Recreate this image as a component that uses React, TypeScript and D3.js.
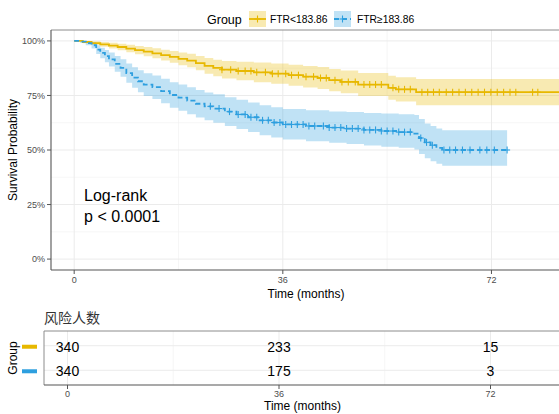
import React from "react";
import * as d3 from "d3";

// Kaplan-Meier steps
const groups = ["FTR<183.86", "FTR≥183.86"];
const colors = ["#E7B800", "#2E9FDF"];

const lowTime = [0, 1.5, 3, 4.5, 6, 7.5, 9, 10.5, 12, 13.5, 15, 16.5, 18, 19.5, 21, 22.5, 24, 25.5, 28, 31, 34, 37, 39.5, 42, 44, 46, 49, 54.2, 55.5, 59];
const lowSurv = [1, 0.995, 0.99, 0.984, 0.978, 0.972, 0.965, 0.958, 0.951, 0.943, 0.935, 0.927, 0.918, 0.91, 0.898, 0.886, 0.876, 0.868, 0.862, 0.856, 0.85, 0.843, 0.836, 0.83, 0.82, 0.812, 0.8, 0.785, 0.778, 0.765];
const lowLower = [1, 0.989, 0.981, 0.973, 0.965, 0.957, 0.948, 0.939, 0.93, 0.92, 0.91, 0.9, 0.889, 0.879, 0.865, 0.85, 0.838, 0.828, 0.82, 0.811, 0.804, 0.795, 0.787, 0.78, 0.769, 0.76, 0.747, 0.73, 0.722, 0.705];
const lowUpper = [1, 1, 0.999, 0.995, 0.991, 0.987, 0.982, 0.977, 0.972, 0.966, 0.96, 0.954, 0.947, 0.941, 0.931, 0.922, 0.914, 0.908, 0.904, 0.901, 0.896, 0.891, 0.885, 0.88, 0.871, 0.864, 0.853, 0.84, 0.834, 0.825];
const lowCensor = [25.5, 27, 28.3, 29.5, 30.5, 31.5, 33, 34.2, 35.2, 36.5, 37.5, 38.7, 40, 41.3, 42.5, 43.5, 45, 46.2, 47.3, 48.5, 50, 51, 52, 53, 55, 56, 57, 58, 60, 61, 62, 63, 64.2, 65.3, 66.4, 67.5, 68.6, 69.7, 70.8, 71.9, 73, 74.1, 75.2, 76.2, 79.1, 80];
const lowEnd = 86;

const highTime = [0, 1, 2, 3, 3.8, 4.5, 5.3, 6, 7, 8, 9, 10, 11, 12, 13.5, 15, 16.5, 18, 19.5, 21, 22.5, 24, 26, 28, 30, 32, 34, 36, 40, 44, 47, 50, 53, 56, 58.7, 59.5, 60.5, 61.5, 62.5, 63.5];
const highSurv = [1, 0.997, 0.99, 0.98, 0.96, 0.945, 0.93, 0.915, 0.895, 0.876, 0.852, 0.832, 0.815, 0.8, 0.788, 0.77, 0.752, 0.74, 0.726, 0.712, 0.7, 0.69, 0.676, 0.663, 0.65, 0.636, 0.626, 0.617, 0.61, 0.603, 0.598, 0.592, 0.587, 0.582, 0.575, 0.555, 0.535, 0.522, 0.51, 0.5];
const highLower = [1, 0.992, 0.98, 0.965, 0.94, 0.921, 0.902, 0.883, 0.859, 0.836, 0.808, 0.785, 0.765, 0.748, 0.734, 0.714, 0.694, 0.68, 0.664, 0.649, 0.636, 0.625, 0.61, 0.596, 0.582, 0.568, 0.557, 0.548, 0.54, 0.533, 0.527, 0.521, 0.515, 0.51, 0.502, 0.482, 0.462, 0.449, 0.437, 0.428];
const highUpper = [1, 1, 1, 0.995, 0.98, 0.969, 0.958, 0.947, 0.931, 0.916, 0.896, 0.879, 0.865, 0.852, 0.842, 0.826, 0.81, 0.8, 0.788, 0.775, 0.764, 0.755, 0.742, 0.73, 0.718, 0.705, 0.696, 0.688, 0.682, 0.677, 0.674, 0.67, 0.667, 0.664, 0.66, 0.642, 0.622, 0.61, 0.598, 0.59];
const highCensor = [23.5, 25, 26.8, 28.3, 29.5, 30.5, 31.5, 32.5, 33.5, 34.5, 35.5, 36.5, 37.5, 38.5, 39.5, 40.5, 41.5, 43, 44, 45, 46, 47, 48, 49, 50, 51, 52, 53, 54, 55, 56, 57, 58, 59.8, 60.8, 61.8, 63.8, 64.8, 65.8, 67, 68.3, 70, 71.2, 72.5, 74.7];
const highEnd = 74.7;

const riskTimes = [0, 36, 72];
const riskLow = [340, 233, 15];
const riskHigh = [340, 175, 3];

const xTicks = [0, 36, 72];
const yTicks = [0, 0.25, 0.5, 0.75, 1];

const font = "'Liberation Sans', Arial, sans-serif";

const W = 559;
const H = 414;

const App = () => {
  const main = { left: 51, right: 561, top: 30, bottom: 270 };
  const risk = { left: 44, right: 561, top: 331, bottom: 385 };

  const x = d3.scaleLinear().domain([-4, 84]).range([main.left, main.right]);
  const y = d3.scaleLinear().domain([-0.05, 1.05]).range([main.bottom, main.top]);
  const xr = d3.scaleLinear().domain([-4, 84]).range([risk.left, risk.right]);
  const yr = d3.scalePoint<string>().domain(groups).range([risk.top, risk.bottom]).padding(0.6);

  const series = [
    { time: lowTime, surv: lowSurv, lower: lowLower, upper: lowUpper, censor: lowCensor, end: lowEnd, dash: null },
    { time: highTime, surv: highSurv, lower: highLower, upper: highUpper, censor: highCensor, end: highEnd, dash: "5,3" },
  ].map((s) => {
    const n = s.time.length - 1;
    const pts = s.time.map((t, i) => ({ t, s: s.surv[i], lo: s.lower[i], hi: s.upper[i] }));
    pts.push({ t: s.end, s: s.surv[n], lo: s.lower[n], hi: s.upper[n] });
    const at = (t: number) => s.surv[Math.max(0, d3.bisectRight(s.time, t) - 1)];
    return { ...s, pts, at };
  });

  const line = d3
    .line<any>()
    .x((d) => x(d.t))
    .y((d) => y(d.s))
    .curve(d3.curveStepAfter);
  const band = d3
    .area<any>()
    .x((d) => x(d.t))
    .y0((d) => y(d.lo))
    .y1((d) => y(d.hi))
    .curve(d3.curveStepAfter);

  const minorX = [18, 54];
  const minorY = [0.125, 0.375, 0.625, 0.875];

  const plus = (cx: number, cy: number, c: string, key: any) => (
    <g key={key} stroke={c} strokeWidth={1.1}>
      <line x1={cx - 3} x2={cx + 3} y1={cy} y2={cy} />
      <line x1={cx} x2={cx} y1={cy - 3.5} y2={cy + 3.5} />
    </g>
  );

  const legendKeys = [
    { kx: 249, tx: 270 },
    { kx: 334, tx: 357 },
  ];

  return (
    <svg width={W} height={H} style={{ position: "absolute", left: 0, top: 0, background: "#fff" }} fontFamily={font}>
      <defs>
        <clipPath id="mainClip">
          <rect x={main.left} y={main.top} width={main.right - main.left} height={main.bottom - main.top} />
        </clipPath>
      </defs>

      {/* legend */}
      <text x={207} y={23.5} fontSize={12.5} fill="#000">Group</text>
      {legendKeys.map((k, i) => (
        <g key={i}>
          <rect x={k.kx} y={11} width={17} height={16} fill={colors[i]} fillOpacity={0.3} />
          <line x1={k.kx} x2={k.kx + 17} y1={19} y2={19} stroke={colors[i]} strokeWidth={1.8} strokeDasharray={series[i].dash || undefined} />
          {plus(k.kx + 8.5, 19, colors[i], "lp" + i)}
          <text x={k.tx} y={23} fontSize={10.3} fill="#000">{groups[i]}</text>
        </g>
      ))}

      {/* main panel */}
      <rect x={main.left} y={main.top} width={main.right - main.left} height={main.bottom - main.top} fill="#fff" />
      {minorY.map((v) => (
        <line key={"my" + v} x1={main.left} x2={main.right} y1={y(v)} y2={y(v)} stroke="#F0F0F0" strokeWidth={0.6} />
      ))}
      {minorX.map((v) => (
        <line key={"mx" + v} x1={x(v)} x2={x(v)} y1={main.top} y2={main.bottom} stroke="#F0F0F0" strokeWidth={0.6} />
      ))}
      {yTicks.map((v) => (
        <line key={"gy" + v} x1={main.left} x2={main.right} y1={y(v)} y2={y(v)} stroke="#EBEBEB" strokeWidth={1} />
      ))}
      {xTicks.map((v) => (
        <line key={"gx" + v} x1={x(v)} x2={x(v)} y1={main.top} y2={main.bottom} stroke="#EBEBEB" strokeWidth={1} />
      ))}

      <g clipPath="url(#mainClip)">
        {series.map((s, i) => (
          <path key={"b" + i} d={band(s.pts) || ""} fill={colors[i]} fillOpacity={0.3} />
        ))}
        {series.map((s, i) => (
          <g key={"l" + i}>
            <path d={line(s.pts) || ""} fill="none" stroke={colors[i]} strokeWidth={1.8} strokeDasharray={s.dash || undefined} />
            {s.censor.map((t, j) => plus(x(t), y(s.at(t)), colors[i], j))}
          </g>
        ))}
      </g>

      <line x1={main.left} x2={main.right} y1={main.top} y2={main.top} stroke="#8C8C8C" strokeWidth={1} />
      <line x1={main.left} x2={main.left} y1={main.top} y2={main.bottom} stroke="#555" strokeWidth={1.1} />
      <line x1={main.left} x2={main.right} y1={main.bottom} y2={main.bottom} stroke="#555" strokeWidth={1.2} />

      {yTicks.map((v) => (
        <g key={"ty" + v}>
          <line x1={main.left - 4} x2={main.left} y1={y(v)} y2={y(v)} stroke="#555" />
          <text x={main.left - 6} y={y(v)} dy="0.35em" textAnchor="end" fontSize={9} fill="#4D4D4D">
            {d3.format(".0%")(v)}
          </text>
        </g>
      ))}
      {xTicks.map((v) => (
        <g key={"tx" + v}>
          <line x1={x(v)} x2={x(v)} y1={main.bottom} y2={main.bottom + 4} stroke="#555" />
          <text x={x(v)} y={main.bottom + 13} textAnchor="middle" fontSize={9} fill="#4D4D4D">
            {v}
          </text>
        </g>
      ))}
      <text x={(main.left + main.right) / 2} y={298} textAnchor="middle" fontSize={12} fill="#000">
        Time (months)
      </text>
      <text transform={`translate(17,${(main.top + main.bottom) / 2}) rotate(-90)`} textAnchor="middle" fontSize={12} fill="#000">
        Survival Probability
      </text>

      <text x={x(1.7)} y={201} fontSize={16} fill="#000">Log-rank</text>
      <text x={x(1.7)} y={222} fontSize={16} fill="#000">p &lt; 0.0001</text>

      {/* risk table */}
      <text x={44} y={323} fontSize={14} fill="#333" fontFamily="'Noto Sans CJK SC', sans-serif">风险人数</text>
      <rect x={risk.left} y={risk.top} width={risk.right - risk.left} height={risk.bottom - risk.top} fill="#fff" />
      {minorX.map((v) => (
        <line key={"rmx" + v} x1={xr(v)} x2={xr(v)} y1={risk.top} y2={risk.bottom} stroke="#F0F0F0" strokeWidth={0.6} />
      ))}
      {xTicks.map((v) => (
        <line key={"rgx" + v} x1={xr(v)} x2={xr(v)} y1={risk.top} y2={risk.bottom} stroke="#EBEBEB" />
      ))}
      {groups.map((g) => (
        <line key={"rgy" + g} x1={risk.left} x2={risk.right} y1={yr(g)} y2={yr(g)} stroke="#EBEBEB" />
      ))}
      {[riskLow, riskHigh].map((row, i) =>
        row.map((n, j) => (
          <text key={"rn" + i + j} x={xr(riskTimes[j])} y={yr(groups[i])! + 1} dy="0.35em" textAnchor="middle" fontSize={14} fill="#000">
            {n}
          </text>
        ))
      )}
      <line x1={risk.left} x2={risk.right} y1={risk.top} y2={risk.top} stroke="#8C8C8C" />
      <line x1={risk.left} x2={risk.left} y1={risk.top} y2={risk.bottom} stroke="#8C8C8C" />
      <line x1={risk.left} x2={risk.right} y1={risk.bottom} y2={risk.bottom} stroke="#555" strokeWidth={1.2} />
      {xTicks.map((v) => (
        <g key={"rtx" + v}>
          <line x1={xr(v)} x2={xr(v)} y1={risk.bottom} y2={risk.bottom + 4} stroke="#555" />
          <text x={xr(v)} y={risk.bottom + 12} textAnchor="middle" fontSize={9} fill="#4D4D4D">
            {v}
          </text>
        </g>
      ))}
      <text x={(risk.left + risk.right) / 2} y={410} textAnchor="middle" fontSize={12} fill="#000">
        Time (months)
      </text>
      {groups.map((g, i) => (
        <rect key={"gk" + g} x={22} y={yr(g)! - 1} width={15} height={4} fill={colors[i]} />
      ))}
      <text transform={`translate(17,${(risk.top + risk.bottom) / 2}) rotate(-90)`} textAnchor="middle" fontSize={12} fill="#000">
        Group
      </text>
    </svg>
  );
};

export default App;
